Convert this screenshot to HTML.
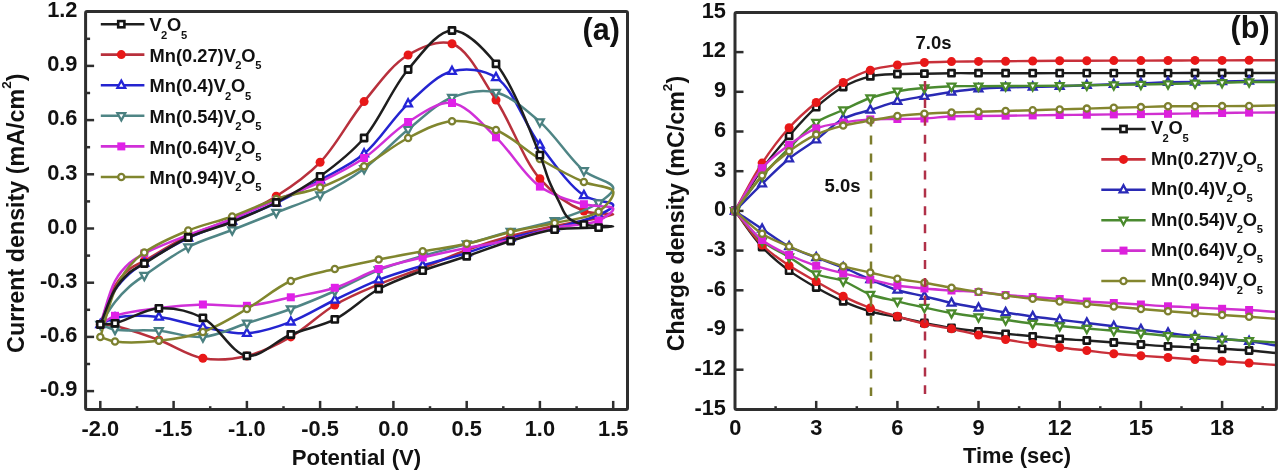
<!DOCTYPE html>
<html><head><meta charset="utf-8"><style>
html,body{margin:0;padding:0;background:#fff;width:1280px;height:472px;overflow:hidden}
svg{display:block;filter:blur(0.6px)}
text{font-family:"Liberation Sans",sans-serif;font-weight:bold}
</style></head><body>
<svg width="1280" height="472" viewBox="0 0 1280 472">
<rect width="1280" height="472" fill="#fff"/>
<g font-family="Liberation Sans, sans-serif" font-weight="bold" fill="#111">
<line x1="100.3" y1="409.4" x2="100.3" y2="400.9" stroke="#2e2e2e" stroke-width="2.5"/>
<text x="100.3" y="435.6" font-size="21.8" text-anchor="middle" >-2.0</text>
<line x1="137.0" y1="409.4" x2="137.0" y2="406.2" stroke="#2e2e2e" stroke-width="2.5"/>
<line x1="173.6" y1="409.4" x2="173.6" y2="400.9" stroke="#2e2e2e" stroke-width="2.5"/>
<text x="173.6" y="435.6" font-size="21.8" text-anchor="middle" >-1.5</text>
<line x1="210.2" y1="409.4" x2="210.2" y2="406.2" stroke="#2e2e2e" stroke-width="2.5"/>
<line x1="246.9" y1="409.4" x2="246.9" y2="400.9" stroke="#2e2e2e" stroke-width="2.5"/>
<text x="246.9" y="435.6" font-size="21.8" text-anchor="middle" >-1.0</text>
<line x1="283.5" y1="409.4" x2="283.5" y2="406.2" stroke="#2e2e2e" stroke-width="2.5"/>
<line x1="320.1" y1="409.4" x2="320.1" y2="400.9" stroke="#2e2e2e" stroke-width="2.5"/>
<text x="320.1" y="435.6" font-size="21.8" text-anchor="middle" >-0.5</text>
<line x1="356.8" y1="409.4" x2="356.8" y2="406.2" stroke="#2e2e2e" stroke-width="2.5"/>
<line x1="393.4" y1="409.4" x2="393.4" y2="400.9" stroke="#2e2e2e" stroke-width="2.5"/>
<text x="393.4" y="435.6" font-size="21.8" text-anchor="middle" >0.0</text>
<line x1="430.0" y1="409.4" x2="430.0" y2="406.2" stroke="#2e2e2e" stroke-width="2.5"/>
<line x1="466.7" y1="409.4" x2="466.7" y2="400.9" stroke="#2e2e2e" stroke-width="2.5"/>
<text x="466.7" y="435.6" font-size="21.8" text-anchor="middle" >0.5</text>
<line x1="503.3" y1="409.4" x2="503.3" y2="406.2" stroke="#2e2e2e" stroke-width="2.5"/>
<line x1="539.9" y1="409.4" x2="539.9" y2="400.9" stroke="#2e2e2e" stroke-width="2.5"/>
<text x="539.9" y="435.6" font-size="21.8" text-anchor="middle" >1.0</text>
<line x1="576.6" y1="409.4" x2="576.6" y2="406.2" stroke="#2e2e2e" stroke-width="2.5"/>
<line x1="613.2" y1="409.4" x2="613.2" y2="400.9" stroke="#2e2e2e" stroke-width="2.5"/>
<text x="613.2" y="435.6" font-size="21.8" text-anchor="middle" >1.5</text>
<line x1="85.6" y1="391.1" x2="94.1" y2="391.1" stroke="#2e2e2e" stroke-width="2.5"/>
<text x="77.5" y="396.4" font-size="21.8" text-anchor="end" >-0.9</text>
<line x1="85.6" y1="364.0" x2="90.1" y2="364.0" stroke="#2e2e2e" stroke-width="2.5"/>
<line x1="85.6" y1="336.9" x2="94.1" y2="336.9" stroke="#2e2e2e" stroke-width="2.5"/>
<text x="77.5" y="342.2" font-size="21.8" text-anchor="end" >-0.6</text>
<line x1="85.6" y1="309.8" x2="90.1" y2="309.8" stroke="#2e2e2e" stroke-width="2.5"/>
<line x1="85.6" y1="282.7" x2="94.1" y2="282.7" stroke="#2e2e2e" stroke-width="2.5"/>
<text x="77.5" y="288.0" font-size="21.8" text-anchor="end" >-0.3</text>
<line x1="85.6" y1="255.6" x2="90.1" y2="255.6" stroke="#2e2e2e" stroke-width="2.5"/>
<line x1="85.6" y1="228.5" x2="94.1" y2="228.5" stroke="#2e2e2e" stroke-width="2.5"/>
<text x="77.5" y="233.8" font-size="21.8" text-anchor="end" >0.0</text>
<line x1="85.6" y1="201.4" x2="90.1" y2="201.4" stroke="#2e2e2e" stroke-width="2.5"/>
<line x1="85.6" y1="174.3" x2="94.1" y2="174.3" stroke="#2e2e2e" stroke-width="2.5"/>
<text x="77.5" y="179.6" font-size="21.8" text-anchor="end" >0.3</text>
<line x1="85.6" y1="147.2" x2="90.1" y2="147.2" stroke="#2e2e2e" stroke-width="2.5"/>
<line x1="85.6" y1="120.1" x2="94.1" y2="120.1" stroke="#2e2e2e" stroke-width="2.5"/>
<text x="77.5" y="125.4" font-size="21.8" text-anchor="end" >0.6</text>
<line x1="85.6" y1="93.0" x2="90.1" y2="93.0" stroke="#2e2e2e" stroke-width="2.5"/>
<line x1="85.6" y1="65.9" x2="94.1" y2="65.9" stroke="#2e2e2e" stroke-width="2.5"/>
<text x="77.5" y="71.2" font-size="21.8" text-anchor="end" >0.9</text>
<line x1="85.6" y1="38.8" x2="90.1" y2="38.8" stroke="#2e2e2e" stroke-width="2.5"/>
<text x="77.5" y="17.0" font-size="21.8" text-anchor="end" >1.2</text>
</g>
<g fill="none" stroke-linejoin="round" stroke-linecap="round">
<path d="M100.3 324.5 C105.2 311.7 109.1 295.9 115.0 286.0 C119.3 278.7 124.3 273.3 129.6 269.0 C134.2 265.3 138.1 264.4 144.3 261.0 C155.0 255.0 173.3 243.1 188.2 236.0 C202.6 229.2 217.7 225.5 232.2 219.0 C247.0 212.3 261.9 205.4 276.2 196.3 C291.3 186.7 306.4 176.5 320.1 162.3 C336.1 145.9 348.8 120.0 364.1 101.6 C378.2 84.5 391.9 64.5 408.1 55.0 C421.6 47.0 438.7 39.3 452.0 43.8 C468.7 49.5 482.1 79.1 496.0 100.0 C511.6 123.5 522.9 159.5 539.9 178.8 C553.2 193.8 570.0 205.6 583.9 211.0 C594.1 215.0 613.1 212.8 613.2 214.3 C613.3 215.3 604.8 216.6 598.6 218.0 C587.9 220.3 569.2 223.0 554.6 226.0 C539.9 229.0 525.2 232.0 510.6 236.0 C495.9 240.0 481.2 244.7 466.7 250.0 C451.9 255.4 437.4 262.3 422.7 268.0 C408.1 273.7 393.3 278.3 378.7 284.4 C364.0 290.6 349.0 296.6 334.8 305.0 C319.7 313.9 306.0 328.3 290.8 336.9 C276.6 345.0 261.8 352.5 246.9 356.0 C232.5 359.4 217.3 360.8 202.9 358.3 C187.9 355.7 173.7 345.4 158.9 340.0 C144.4 334.7 125.8 328.3 115.0 326.0 C108.9 324.7 105.2 325.0 100.3 324.5" stroke="#b8303c" stroke-width="2.5"/>
<circle cx="100.3" cy="324.5" r="4.5" fill="#e81818"/>
<circle cx="144.3" cy="261.0" r="4.5" fill="#e81818"/>
<circle cx="188.2" cy="236.0" r="4.5" fill="#e81818"/>
<circle cx="232.2" cy="219.0" r="4.5" fill="#e81818"/>
<circle cx="276.2" cy="196.3" r="4.5" fill="#e81818"/>
<circle cx="320.1" cy="162.3" r="4.5" fill="#e81818"/>
<circle cx="364.1" cy="101.6" r="4.5" fill="#e81818"/>
<circle cx="408.1" cy="55.0" r="4.5" fill="#e81818"/>
<circle cx="452.0" cy="43.8" r="4.5" fill="#e81818"/>
<circle cx="496.0" cy="100.0" r="4.5" fill="#e81818"/>
<circle cx="539.9" cy="178.8" r="4.5" fill="#e81818"/>
<circle cx="583.9" cy="211.0" r="4.5" fill="#e81818"/>
<circle cx="598.6" cy="218.0" r="4.5" fill="#e81818"/>
<circle cx="554.6" cy="226.0" r="4.5" fill="#e81818"/>
<circle cx="510.6" cy="236.0" r="4.5" fill="#e81818"/>
<circle cx="466.7" cy="250.0" r="4.5" fill="#e81818"/>
<circle cx="422.7" cy="268.0" r="4.5" fill="#e81818"/>
<circle cx="378.7" cy="284.4" r="4.5" fill="#e81818"/>
<circle cx="334.8" cy="305.0" r="4.5" fill="#e81818"/>
<circle cx="290.8" cy="336.9" r="4.5" fill="#e81818"/>
<circle cx="246.9" cy="356.0" r="4.5" fill="#e81818"/>
<circle cx="202.9" cy="358.3" r="4.5" fill="#e81818"/>
<circle cx="158.9" cy="340.0" r="4.5" fill="#e81818"/>
<circle cx="115.0" cy="326.0" r="4.5" fill="#e81818"/>
<path d="M100.3 324.5 C105.2 313.0 109.3 299.0 115.0 290.0 C119.4 283.1 124.5 278.1 129.6 273.5 C134.3 269.3 138.0 267.1 144.3 263.0 C154.9 256.2 173.3 245.1 188.2 238.0 C202.6 231.2 217.6 226.8 232.2 221.0 C246.9 215.2 261.7 209.7 276.2 203.0 C291.0 196.1 305.6 188.1 320.1 180.0 C334.9 171.7 350.3 165.3 364.1 153.8 C379.8 140.7 392.6 118.0 408.1 103.8 C422.1 90.9 436.5 75.2 452.0 71.3 C466.0 67.8 482.9 69.2 496.0 77.5 C513.6 88.7 524.5 124.6 539.9 145.0 C554.0 163.6 569.4 185.9 583.9 195.5 C593.7 202.0 612.7 201.1 613.2 205.0 C613.6 207.9 605.1 211.9 598.6 215.0 C588.1 220.0 569.3 224.2 554.6 228.0 C540.0 231.8 525.2 233.9 510.6 238.0 C495.9 242.2 481.4 248.4 466.7 253.0 C452.1 257.6 437.3 261.0 422.7 265.5 C408.0 270.0 393.2 274.1 378.7 279.8 C363.9 285.6 349.4 293.0 334.8 300.0 C320.1 307.0 305.8 316.3 290.8 321.9 C276.4 327.3 261.6 332.5 246.9 333.3 C232.3 334.1 217.5 329.7 202.9 327.0 C188.2 324.3 173.7 318.5 158.9 317.0 C144.4 315.5 125.5 315.6 115.0 318.0 C108.6 319.4 105.2 322.3 100.3 324.5" stroke="#2424d0" stroke-width="2.5"/>
<path d="M100.3 319.9L104.2 327.1L96.4 327.1Z" fill="#fff" stroke="#2424d8" stroke-width="2.3" stroke-linejoin="miter"/>
<path d="M144.3 258.4L148.2 265.6L140.4 265.6Z" fill="#fff" stroke="#2424d8" stroke-width="2.3" stroke-linejoin="miter"/>
<path d="M188.2 233.4L192.1 240.6L184.3 240.6Z" fill="#fff" stroke="#2424d8" stroke-width="2.3" stroke-linejoin="miter"/>
<path d="M232.2 216.4L236.1 223.6L228.3 223.6Z" fill="#fff" stroke="#2424d8" stroke-width="2.3" stroke-linejoin="miter"/>
<path d="M276.2 198.4L280.1 205.6L272.3 205.6Z" fill="#fff" stroke="#2424d8" stroke-width="2.3" stroke-linejoin="miter"/>
<path d="M320.1 175.4L324.0 182.6L316.2 182.6Z" fill="#fff" stroke="#2424d8" stroke-width="2.3" stroke-linejoin="miter"/>
<path d="M364.1 149.2L368.0 156.4L360.2 156.4Z" fill="#fff" stroke="#2424d8" stroke-width="2.3" stroke-linejoin="miter"/>
<path d="M408.1 99.2L412.0 106.4L404.2 106.4Z" fill="#fff" stroke="#2424d8" stroke-width="2.3" stroke-linejoin="miter"/>
<path d="M452.0 66.7L455.9 73.9L448.1 73.9Z" fill="#fff" stroke="#2424d8" stroke-width="2.3" stroke-linejoin="miter"/>
<path d="M496.0 72.9L499.9 80.1L492.1 80.1Z" fill="#fff" stroke="#2424d8" stroke-width="2.3" stroke-linejoin="miter"/>
<path d="M539.9 140.4L543.8 147.6L536.0 147.6Z" fill="#fff" stroke="#2424d8" stroke-width="2.3" stroke-linejoin="miter"/>
<path d="M583.9 190.9L587.8 198.1L580.0 198.1Z" fill="#fff" stroke="#2424d8" stroke-width="2.3" stroke-linejoin="miter"/>
<path d="M598.6 210.4L602.5 217.6L594.7 217.6Z" fill="#fff" stroke="#2424d8" stroke-width="2.3" stroke-linejoin="miter"/>
<path d="M554.6 223.4L558.5 230.6L550.7 230.6Z" fill="#fff" stroke="#2424d8" stroke-width="2.3" stroke-linejoin="miter"/>
<path d="M510.6 233.4L514.5 240.6L506.7 240.6Z" fill="#fff" stroke="#2424d8" stroke-width="2.3" stroke-linejoin="miter"/>
<path d="M466.7 248.4L470.6 255.6L462.8 255.6Z" fill="#fff" stroke="#2424d8" stroke-width="2.3" stroke-linejoin="miter"/>
<path d="M422.7 260.9L426.6 268.1L418.8 268.1Z" fill="#fff" stroke="#2424d8" stroke-width="2.3" stroke-linejoin="miter"/>
<path d="M378.7 275.2L382.6 282.4L374.8 282.4Z" fill="#fff" stroke="#2424d8" stroke-width="2.3" stroke-linejoin="miter"/>
<path d="M334.8 295.4L338.7 302.6L330.9 302.6Z" fill="#fff" stroke="#2424d8" stroke-width="2.3" stroke-linejoin="miter"/>
<path d="M290.8 317.3L294.7 324.5L286.9 324.5Z" fill="#fff" stroke="#2424d8" stroke-width="2.3" stroke-linejoin="miter"/>
<path d="M246.9 328.7L250.8 335.9L243.0 335.9Z" fill="#fff" stroke="#2424d8" stroke-width="2.3" stroke-linejoin="miter"/>
<path d="M202.9 322.4L206.8 329.6L199.0 329.6Z" fill="#fff" stroke="#2424d8" stroke-width="2.3" stroke-linejoin="miter"/>
<path d="M158.9 312.4L162.8 319.6L155.0 319.6Z" fill="#fff" stroke="#2424d8" stroke-width="2.3" stroke-linejoin="miter"/>
<path d="M115.0 313.4L118.9 320.6L111.1 320.6Z" fill="#fff" stroke="#2424d8" stroke-width="2.3" stroke-linejoin="miter"/>
<path d="M100.3 324.5 C105.2 317.0 109.8 308.6 115.0 302.0 C119.6 296.1 124.5 291.0 129.6 286.5 C134.3 282.3 138.0 279.9 144.3 275.5 C154.9 268.1 173.2 254.7 188.2 247.0 C202.5 239.7 217.6 235.7 232.2 230.0 C246.9 224.2 261.5 218.3 276.2 212.5 C290.8 206.7 305.8 202.1 320.1 195.0 C335.1 187.6 349.9 179.2 364.1 168.8 C379.3 157.6 393.1 141.6 408.1 129.5 C422.4 117.9 436.5 103.5 452.0 97.5 C466.0 92.1 481.9 89.1 496.0 92.5 C511.3 96.2 526.0 109.8 539.9 121.9 C555.5 135.4 569.9 159.4 583.9 170.8 C594.0 179.0 612.3 181.6 613.2 187.7 C613.9 192.5 605.4 198.4 598.6 203.0 C588.3 209.9 569.4 215.9 554.6 220.7 C540.1 225.4 525.3 227.6 510.6 231.5 C495.9 235.4 481.3 239.9 466.7 244.0 C452.0 248.1 437.3 251.7 422.7 256.0 C408.0 260.3 393.2 264.3 378.7 270.0 C363.9 275.9 349.5 284.5 334.8 291.0 C320.2 297.5 305.6 303.6 290.8 309.0 C276.3 314.3 261.5 318.6 246.9 323.3 C232.2 328.0 217.7 335.8 202.9 337.0 C188.4 338.2 173.6 332.0 158.9 330.8 C144.3 329.6 125.6 331.4 115.0 329.5 C108.7 328.4 105.2 326.2 100.3 324.5" stroke="#4f8585" stroke-width="2.5"/>
<path d="M100.3 329.1L104.2 321.9L96.4 321.9Z" fill="#fff" stroke="#4a8080" stroke-width="2.3" stroke-linejoin="miter"/>
<path d="M144.3 280.1L148.2 272.9L140.4 272.9Z" fill="#fff" stroke="#4a8080" stroke-width="2.3" stroke-linejoin="miter"/>
<path d="M188.2 251.6L192.1 244.4L184.3 244.4Z" fill="#fff" stroke="#4a8080" stroke-width="2.3" stroke-linejoin="miter"/>
<path d="M232.2 234.6L236.1 227.4L228.3 227.4Z" fill="#fff" stroke="#4a8080" stroke-width="2.3" stroke-linejoin="miter"/>
<path d="M276.2 217.1L280.1 209.9L272.3 209.9Z" fill="#fff" stroke="#4a8080" stroke-width="2.3" stroke-linejoin="miter"/>
<path d="M320.1 199.6L324.0 192.4L316.2 192.4Z" fill="#fff" stroke="#4a8080" stroke-width="2.3" stroke-linejoin="miter"/>
<path d="M364.1 173.4L368.0 166.2L360.2 166.2Z" fill="#fff" stroke="#4a8080" stroke-width="2.3" stroke-linejoin="miter"/>
<path d="M408.1 134.1L412.0 126.9L404.2 126.9Z" fill="#fff" stroke="#4a8080" stroke-width="2.3" stroke-linejoin="miter"/>
<path d="M452.0 102.1L455.9 94.9L448.1 94.9Z" fill="#fff" stroke="#4a8080" stroke-width="2.3" stroke-linejoin="miter"/>
<path d="M496.0 97.1L499.9 89.9L492.1 89.9Z" fill="#fff" stroke="#4a8080" stroke-width="2.3" stroke-linejoin="miter"/>
<path d="M539.9 126.5L543.8 119.3L536.0 119.3Z" fill="#fff" stroke="#4a8080" stroke-width="2.3" stroke-linejoin="miter"/>
<path d="M583.9 175.4L587.8 168.2L580.0 168.2Z" fill="#fff" stroke="#4a8080" stroke-width="2.3" stroke-linejoin="miter"/>
<path d="M598.6 207.6L602.5 200.4L594.7 200.4Z" fill="#fff" stroke="#4a8080" stroke-width="2.3" stroke-linejoin="miter"/>
<path d="M554.6 225.3L558.5 218.1L550.7 218.1Z" fill="#fff" stroke="#4a8080" stroke-width="2.3" stroke-linejoin="miter"/>
<path d="M510.6 236.1L514.5 228.9L506.7 228.9Z" fill="#fff" stroke="#4a8080" stroke-width="2.3" stroke-linejoin="miter"/>
<path d="M466.7 248.6L470.6 241.4L462.8 241.4Z" fill="#fff" stroke="#4a8080" stroke-width="2.3" stroke-linejoin="miter"/>
<path d="M422.7 260.6L426.6 253.4L418.8 253.4Z" fill="#fff" stroke="#4a8080" stroke-width="2.3" stroke-linejoin="miter"/>
<path d="M378.7 274.6L382.6 267.4L374.8 267.4Z" fill="#fff" stroke="#4a8080" stroke-width="2.3" stroke-linejoin="miter"/>
<path d="M334.8 295.6L338.7 288.4L330.9 288.4Z" fill="#fff" stroke="#4a8080" stroke-width="2.3" stroke-linejoin="miter"/>
<path d="M290.8 313.6L294.7 306.4L286.9 306.4Z" fill="#fff" stroke="#4a8080" stroke-width="2.3" stroke-linejoin="miter"/>
<path d="M246.9 327.9L250.8 320.7L243.0 320.7Z" fill="#fff" stroke="#4a8080" stroke-width="2.3" stroke-linejoin="miter"/>
<path d="M202.9 341.6L206.8 334.4L199.0 334.4Z" fill="#fff" stroke="#4a8080" stroke-width="2.3" stroke-linejoin="miter"/>
<path d="M158.9 335.4L162.8 328.2L155.0 328.2Z" fill="#fff" stroke="#4a8080" stroke-width="2.3" stroke-linejoin="miter"/>
<path d="M115.0 334.1L118.9 326.9L111.1 326.9Z" fill="#fff" stroke="#4a8080" stroke-width="2.3" stroke-linejoin="miter"/>
<path d="M100.3 324.5 C105.2 310.0 108.9 292.0 115.0 281.0 C119.3 273.2 124.3 267.7 129.6 263.0 C134.2 258.9 137.9 256.9 144.3 253.5 C154.8 247.9 173.5 240.8 188.2 235.0 C202.8 229.3 217.6 224.8 232.2 219.0 C246.9 213.1 261.5 206.2 276.2 200.0 C290.8 193.8 305.7 188.9 320.1 182.0 C335.0 174.9 349.9 167.6 364.1 158.0 C379.2 147.8 392.7 131.3 408.1 122.0 C422.1 113.4 437.9 101.2 452.0 103.0 C467.3 105.0 481.9 124.1 496.0 137.3 C511.3 151.7 523.8 175.3 539.9 186.6 C553.6 196.2 570.5 200.6 583.9 204.2 C594.5 207.1 612.3 205.2 613.2 208.6 C614.0 211.4 605.3 217.6 598.6 220.7 C588.2 225.4 569.2 224.8 554.6 228.0 C539.9 231.2 525.4 236.7 510.6 240.0 C496.0 243.3 481.3 245.1 466.7 248.0 C452.0 250.9 437.3 254.0 422.7 257.5 C408.0 261.0 393.2 264.0 378.7 269.0 C363.9 274.1 349.7 283.1 334.8 287.8 C320.3 292.4 305.5 294.3 290.8 297.3 C276.2 300.3 261.6 304.6 246.9 305.8 C232.3 307.0 217.5 304.1 202.9 304.5 C188.2 304.9 173.5 306.1 158.9 308.0 C144.2 309.9 125.5 311.9 115.0 315.8 C108.5 318.2 105.2 321.6 100.3 324.5" stroke="#d030d8" stroke-width="2.5"/>
<rect x="96.3" y="320.5" width="8.0" height="8.0" fill="#e020e8"/>
<rect x="140.3" y="249.5" width="8.0" height="8.0" fill="#e020e8"/>
<rect x="184.2" y="231.0" width="8.0" height="8.0" fill="#e020e8"/>
<rect x="228.2" y="215.0" width="8.0" height="8.0" fill="#e020e8"/>
<rect x="272.2" y="196.0" width="8.0" height="8.0" fill="#e020e8"/>
<rect x="316.1" y="178.0" width="8.0" height="8.0" fill="#e020e8"/>
<rect x="360.1" y="154.0" width="8.0" height="8.0" fill="#e020e8"/>
<rect x="404.1" y="118.0" width="8.0" height="8.0" fill="#e020e8"/>
<rect x="448.0" y="99.0" width="8.0" height="8.0" fill="#e020e8"/>
<rect x="492.0" y="133.3" width="8.0" height="8.0" fill="#e020e8"/>
<rect x="535.9" y="182.6" width="8.0" height="8.0" fill="#e020e8"/>
<rect x="579.9" y="200.2" width="8.0" height="8.0" fill="#e020e8"/>
<rect x="594.6" y="216.7" width="8.0" height="8.0" fill="#e020e8"/>
<rect x="550.6" y="224.0" width="8.0" height="8.0" fill="#e020e8"/>
<rect x="506.6" y="236.0" width="8.0" height="8.0" fill="#e020e8"/>
<rect x="462.7" y="244.0" width="8.0" height="8.0" fill="#e020e8"/>
<rect x="418.7" y="253.5" width="8.0" height="8.0" fill="#e020e8"/>
<rect x="374.7" y="265.0" width="8.0" height="8.0" fill="#e020e8"/>
<rect x="330.8" y="283.8" width="8.0" height="8.0" fill="#e020e8"/>
<rect x="286.8" y="293.3" width="8.0" height="8.0" fill="#e020e8"/>
<rect x="242.9" y="301.8" width="8.0" height="8.0" fill="#e020e8"/>
<rect x="198.9" y="300.5" width="8.0" height="8.0" fill="#e020e8"/>
<rect x="154.9" y="304.0" width="8.0" height="8.0" fill="#e020e8"/>
<rect x="111.0" y="311.8" width="8.0" height="8.0" fill="#e020e8"/>
<path d="M100.3 337.0 C105.2 321.3 109.2 302.8 115.0 290.0 C119.3 280.3 124.2 272.6 129.6 266.0 C134.2 260.5 137.7 257.1 144.3 252.5 C154.7 245.3 173.4 236.6 188.2 230.5 C202.7 224.6 217.6 221.7 232.2 216.5 C247.0 211.2 261.4 203.9 276.2 199.0 C290.7 194.2 305.7 192.8 320.1 187.5 C335.1 182.0 349.7 174.4 364.1 166.3 C379.0 157.9 393.0 145.6 408.1 138.0 C422.3 130.8 437.2 122.5 452.0 121.3 C466.5 120.1 481.9 124.2 496.0 130.0 C511.3 136.3 525.1 150.2 539.9 159.0 C554.4 167.5 570.5 176.4 583.9 182.0 C594.5 186.4 611.4 186.0 613.2 191.4 C614.8 196.3 606.0 206.7 598.6 211.8 C588.5 218.6 569.3 219.6 554.6 223.0 C540.0 226.4 525.2 228.5 510.6 232.0 C495.9 235.5 481.4 240.6 466.7 243.8 C452.1 247.0 437.4 248.7 422.7 251.3 C408.0 253.9 393.4 256.7 378.7 259.6 C364.1 262.6 349.4 265.4 334.8 269.0 C320.1 272.6 305.0 274.7 290.8 281.0 C275.6 287.7 261.7 300.4 246.9 309.0 C232.4 317.4 217.9 326.7 202.9 332.0 C188.6 337.1 173.7 339.2 158.9 340.8 C144.4 342.4 125.6 343.0 115.0 341.5 C108.7 340.6 105.2 338.5 100.3 337.0" stroke="#80862e" stroke-width="2.5"/>
<circle cx="100.3" cy="337.0" r="3.1" fill="#fff" stroke="#7c8030" stroke-width="2.3"/>
<circle cx="144.3" cy="252.5" r="3.1" fill="#fff" stroke="#7c8030" stroke-width="2.3"/>
<circle cx="188.2" cy="230.5" r="3.1" fill="#fff" stroke="#7c8030" stroke-width="2.3"/>
<circle cx="232.2" cy="216.5" r="3.1" fill="#fff" stroke="#7c8030" stroke-width="2.3"/>
<circle cx="276.2" cy="199.0" r="3.1" fill="#fff" stroke="#7c8030" stroke-width="2.3"/>
<circle cx="320.1" cy="187.5" r="3.1" fill="#fff" stroke="#7c8030" stroke-width="2.3"/>
<circle cx="364.1" cy="166.3" r="3.1" fill="#fff" stroke="#7c8030" stroke-width="2.3"/>
<circle cx="408.1" cy="138.0" r="3.1" fill="#fff" stroke="#7c8030" stroke-width="2.3"/>
<circle cx="452.0" cy="121.3" r="3.1" fill="#fff" stroke="#7c8030" stroke-width="2.3"/>
<circle cx="496.0" cy="130.0" r="3.1" fill="#fff" stroke="#7c8030" stroke-width="2.3"/>
<circle cx="539.9" cy="159.0" r="3.1" fill="#fff" stroke="#7c8030" stroke-width="2.3"/>
<circle cx="583.9" cy="182.0" r="3.1" fill="#fff" stroke="#7c8030" stroke-width="2.3"/>
<circle cx="598.6" cy="211.8" r="3.1" fill="#fff" stroke="#7c8030" stroke-width="2.3"/>
<circle cx="554.6" cy="223.0" r="3.1" fill="#fff" stroke="#7c8030" stroke-width="2.3"/>
<circle cx="510.6" cy="232.0" r="3.1" fill="#fff" stroke="#7c8030" stroke-width="2.3"/>
<circle cx="466.7" cy="243.8" r="3.1" fill="#fff" stroke="#7c8030" stroke-width="2.3"/>
<circle cx="422.7" cy="251.3" r="3.1" fill="#fff" stroke="#7c8030" stroke-width="2.3"/>
<circle cx="378.7" cy="259.6" r="3.1" fill="#fff" stroke="#7c8030" stroke-width="2.3"/>
<circle cx="334.8" cy="269.0" r="3.1" fill="#fff" stroke="#7c8030" stroke-width="2.3"/>
<circle cx="290.8" cy="281.0" r="3.1" fill="#fff" stroke="#7c8030" stroke-width="2.3"/>
<circle cx="246.9" cy="309.0" r="3.1" fill="#fff" stroke="#7c8030" stroke-width="2.3"/>
<circle cx="202.9" cy="332.0" r="3.1" fill="#fff" stroke="#7c8030" stroke-width="2.3"/>
<circle cx="158.9" cy="340.8" r="3.1" fill="#fff" stroke="#7c8030" stroke-width="2.3"/>
<circle cx="115.0" cy="341.5" r="3.1" fill="#fff" stroke="#7c8030" stroke-width="2.3"/>
<path d="M100.3 324.5 C105.2 312.8 109.3 298.7 115.0 289.5 C119.4 282.4 124.4 277.0 129.6 272.5 C134.2 268.6 138.1 267.2 144.3 263.5 C155.0 257.0 173.2 244.5 188.2 237.5 C202.6 230.8 217.7 227.8 232.2 222.0 C247.0 216.1 261.7 210.0 276.2 202.5 C291.1 194.8 305.9 186.6 320.1 176.3 C335.3 165.3 350.5 153.8 364.1 138.0 C380.2 119.4 392.0 88.3 408.1 69.5 C421.7 53.6 437.1 31.1 452.0 30.5 C466.4 29.9 483.0 47.9 496.0 63.8 C513.6 85.4 531.2 134.1 539.9 155.1 C544.4 165.8 545.5 172.1 548.7 180.0 C551.8 187.5 555.6 195.0 559.0 201.6 C561.9 207.4 563.6 213.7 567.8 217.5 C571.9 221.3 577.6 223.1 583.9 224.6 C592.1 226.6 613.2 225.8 613.2 226.4 C613.2 226.8 604.8 227.2 598.6 227.6 C587.8 228.3 569.1 227.4 554.6 229.6 C539.8 231.8 525.2 236.6 510.6 241.0 C495.9 245.5 481.3 251.4 466.7 256.3 C452.0 261.2 437.3 265.2 422.7 270.6 C407.9 276.1 393.0 281.2 378.7 289.0 C363.6 297.3 350.0 311.7 334.8 319.4 C320.6 326.6 305.3 328.5 290.8 334.5 C276.0 340.6 260.9 357.7 246.9 355.8 C231.5 353.8 218.6 325.6 202.9 317.8 C189.1 310.9 173.5 307.5 158.9 308.3 C144.2 309.2 125.8 321.0 115.0 323.3 C108.9 324.6 105.2 324.1 100.3 324.5" stroke="#1e1e1e" stroke-width="2.5"/>
<rect x="97.2" y="321.4" width="6.2" height="6.2" fill="#fff" stroke="#141414" stroke-width="2.6"/>
<rect x="141.2" y="260.4" width="6.2" height="6.2" fill="#fff" stroke="#141414" stroke-width="2.6"/>
<rect x="185.1" y="234.4" width="6.2" height="6.2" fill="#fff" stroke="#141414" stroke-width="2.6"/>
<rect x="229.1" y="218.9" width="6.2" height="6.2" fill="#fff" stroke="#141414" stroke-width="2.6"/>
<rect x="273.1" y="199.4" width="6.2" height="6.2" fill="#fff" stroke="#141414" stroke-width="2.6"/>
<rect x="317.0" y="173.2" width="6.2" height="6.2" fill="#fff" stroke="#141414" stroke-width="2.6"/>
<rect x="361.0" y="134.9" width="6.2" height="6.2" fill="#fff" stroke="#141414" stroke-width="2.6"/>
<rect x="405.0" y="66.4" width="6.2" height="6.2" fill="#fff" stroke="#141414" stroke-width="2.6"/>
<rect x="448.9" y="27.4" width="6.2" height="6.2" fill="#fff" stroke="#141414" stroke-width="2.6"/>
<rect x="492.9" y="60.7" width="6.2" height="6.2" fill="#fff" stroke="#141414" stroke-width="2.6"/>
<rect x="536.8" y="152.0" width="6.2" height="6.2" fill="#fff" stroke="#141414" stroke-width="2.6"/>
<rect x="580.8" y="221.5" width="6.2" height="6.2" fill="#fff" stroke="#141414" stroke-width="2.6"/>
<rect x="595.5" y="224.5" width="6.2" height="6.2" fill="#fff" stroke="#141414" stroke-width="2.6"/>
<rect x="551.5" y="226.5" width="6.2" height="6.2" fill="#fff" stroke="#141414" stroke-width="2.6"/>
<rect x="507.5" y="237.9" width="6.2" height="6.2" fill="#fff" stroke="#141414" stroke-width="2.6"/>
<rect x="463.6" y="253.2" width="6.2" height="6.2" fill="#fff" stroke="#141414" stroke-width="2.6"/>
<rect x="419.6" y="267.5" width="6.2" height="6.2" fill="#fff" stroke="#141414" stroke-width="2.6"/>
<rect x="375.6" y="285.9" width="6.2" height="6.2" fill="#fff" stroke="#141414" stroke-width="2.6"/>
<rect x="331.7" y="316.3" width="6.2" height="6.2" fill="#fff" stroke="#141414" stroke-width="2.6"/>
<rect x="287.7" y="331.4" width="6.2" height="6.2" fill="#fff" stroke="#141414" stroke-width="2.6"/>
<rect x="243.8" y="352.7" width="6.2" height="6.2" fill="#fff" stroke="#141414" stroke-width="2.6"/>
<rect x="199.8" y="314.7" width="6.2" height="6.2" fill="#fff" stroke="#141414" stroke-width="2.6"/>
<rect x="155.8" y="305.2" width="6.2" height="6.2" fill="#fff" stroke="#141414" stroke-width="2.6"/>
<rect x="111.9" y="320.2" width="6.2" height="6.2" fill="#fff" stroke="#141414" stroke-width="2.6"/>
</g>
<g font-family="Liberation Sans, sans-serif" font-weight="bold" fill="#111">
<line x1="100.8" y1="24.2" x2="144.4" y2="24.2" stroke="#1e1e1e" stroke-width="2.6"/>
<rect x="118.2" y="21.1" width="6.2" height="6.2" fill="#fff" stroke="#141414" stroke-width="2.6"/>
<text x="149.5" y="31.4" font-size="18.3">V<tspan font-size="11.2" dx="-0.6" dy="7.2">2</tspan><tspan dx="-0.3" dy="-7.2">O</tspan><tspan font-size="11.2" dx="-0.3" dy="7.2">5</tspan></text>
<line x1="100.8" y1="54.6" x2="144.4" y2="54.6" stroke="#b8303c" stroke-width="2.6"/>
<circle cx="121.3" cy="54.6" r="4.5" fill="#e81818"/>
<text x="149.5" y="61.8" font-size="18.3">Mn(0.27)V<tspan font-size="11.2" dx="-0.6" dy="7.2">2</tspan><tspan dx="-0.3" dy="-7.2">O</tspan><tspan font-size="11.2" dx="-0.3" dy="7.2">5</tspan></text>
<line x1="100.8" y1="85.2" x2="144.4" y2="85.2" stroke="#2424d0" stroke-width="2.6"/>
<path d="M121.3 80.6L125.2 87.8L117.4 87.8Z" fill="#fff" stroke="#2424d8" stroke-width="2.3" stroke-linejoin="miter"/>
<text x="149.5" y="92.4" font-size="18.3">Mn(0.4)V<tspan font-size="11.2" dx="-0.6" dy="7.2">2</tspan><tspan dx="-0.3" dy="-7.2">O</tspan><tspan font-size="11.2" dx="-0.3" dy="7.2">5</tspan></text>
<line x1="100.8" y1="115.8" x2="144.4" y2="115.8" stroke="#4f8585" stroke-width="2.6"/>
<path d="M121.3 120.4L125.2 113.2L117.4 113.2Z" fill="#fff" stroke="#4a8080" stroke-width="2.3" stroke-linejoin="miter"/>
<text x="149.5" y="123.0" font-size="18.3">Mn(0.54)V<tspan font-size="11.2" dx="-0.6" dy="7.2">2</tspan><tspan dx="-0.3" dy="-7.2">O</tspan><tspan font-size="11.2" dx="-0.3" dy="7.2">5</tspan></text>
<line x1="100.8" y1="146.4" x2="144.4" y2="146.4" stroke="#d030d8" stroke-width="2.6"/>
<rect x="117.3" y="142.4" width="8.0" height="8.0" fill="#e020e8"/>
<text x="149.5" y="153.6" font-size="18.3">Mn(0.64)V<tspan font-size="11.2" dx="-0.6" dy="7.2">2</tspan><tspan dx="-0.3" dy="-7.2">O</tspan><tspan font-size="11.2" dx="-0.3" dy="7.2">5</tspan></text>
<line x1="100.8" y1="177.0" x2="144.4" y2="177.0" stroke="#80862e" stroke-width="2.6"/>
<circle cx="121.3" cy="177.0" r="3.1" fill="#fff" stroke="#7c8030" stroke-width="2.3"/>
<text x="149.5" y="184.2" font-size="18.3">Mn(0.94)V<tspan font-size="11.2" dx="-0.6" dy="7.2">2</tspan><tspan dx="-0.3" dy="-7.2">O</tspan><tspan font-size="11.2" dx="-0.3" dy="7.2">5</tspan></text>
</g>
<rect x="85.6" y="11.5" width="541.9" height="397.9" fill="none" stroke="#2e2e2e" stroke-width="3" rx="1.5"/>
<g font-family="Liberation Sans, sans-serif" font-weight="bold" fill="#111">
<text x="601.2" y="40.0" font-size="30.5" text-anchor="middle" >(a)</text>
<text x="356.5" y="464.8" font-size="22.2" text-anchor="middle" >Potential (V)</text>
<text transform="translate(23.8,213.2) rotate(-90)" x="0" y="0" font-size="23.3" text-anchor="middle">Current density (mA/cm<tspan font-size="13.5" dy="-12.5">2</tspan><tspan dy="12.5">)</tspan></text>
</g>
<g font-family="Liberation Sans, sans-serif" font-weight="bold" fill="#111">
<line x1="775.6" y1="409.4" x2="775.6" y2="406.2" stroke="#2e2e2e" stroke-width="2.5"/>
<line x1="816.2" y1="409.4" x2="816.2" y2="400.9" stroke="#2e2e2e" stroke-width="2.5"/>
<text x="816.2" y="434.6" font-size="21.8" text-anchor="middle" >3</text>
<line x1="856.8" y1="409.4" x2="856.8" y2="406.2" stroke="#2e2e2e" stroke-width="2.5"/>
<line x1="897.4" y1="409.4" x2="897.4" y2="400.9" stroke="#2e2e2e" stroke-width="2.5"/>
<text x="897.4" y="434.6" font-size="21.8" text-anchor="middle" >6</text>
<line x1="938.0" y1="409.4" x2="938.0" y2="406.2" stroke="#2e2e2e" stroke-width="2.5"/>
<line x1="978.5" y1="409.4" x2="978.5" y2="400.9" stroke="#2e2e2e" stroke-width="2.5"/>
<text x="978.5" y="434.6" font-size="21.8" text-anchor="middle" >9</text>
<line x1="1019.1" y1="409.4" x2="1019.1" y2="406.2" stroke="#2e2e2e" stroke-width="2.5"/>
<line x1="1059.7" y1="409.4" x2="1059.7" y2="400.9" stroke="#2e2e2e" stroke-width="2.5"/>
<text x="1059.7" y="434.6" font-size="21.8" text-anchor="middle" >12</text>
<line x1="1100.3" y1="409.4" x2="1100.3" y2="406.2" stroke="#2e2e2e" stroke-width="2.5"/>
<line x1="1140.9" y1="409.4" x2="1140.9" y2="400.9" stroke="#2e2e2e" stroke-width="2.5"/>
<text x="1140.9" y="434.6" font-size="21.8" text-anchor="middle" >15</text>
<line x1="1181.5" y1="409.4" x2="1181.5" y2="406.2" stroke="#2e2e2e" stroke-width="2.5"/>
<line x1="1222.1" y1="409.4" x2="1222.1" y2="400.9" stroke="#2e2e2e" stroke-width="2.5"/>
<text x="1222.1" y="434.6" font-size="21.8" text-anchor="middle" >18</text>
<line x1="1262.7" y1="409.4" x2="1262.7" y2="406.2" stroke="#2e2e2e" stroke-width="2.5"/>
<text x="735.3" y="434.6" font-size="21.8" text-anchor="middle" >0</text>
<text x="726.0" y="414.7" font-size="21.8" text-anchor="end" >-15</text>
<line x1="735.0" y1="369.7" x2="743.5" y2="369.7" stroke="#2e2e2e" stroke-width="2.5"/>
<text x="726.0" y="375.0" font-size="21.8" text-anchor="end" >-12</text>
<line x1="735.0" y1="330.0" x2="743.5" y2="330.0" stroke="#2e2e2e" stroke-width="2.5"/>
<text x="726.0" y="335.3" font-size="21.8" text-anchor="end" >-9</text>
<line x1="735.0" y1="290.3" x2="743.5" y2="290.3" stroke="#2e2e2e" stroke-width="2.5"/>
<text x="726.0" y="295.6" font-size="21.8" text-anchor="end" >-6</text>
<line x1="735.0" y1="250.6" x2="743.5" y2="250.6" stroke="#2e2e2e" stroke-width="2.5"/>
<text x="726.0" y="255.9" font-size="21.8" text-anchor="end" >-3</text>
<line x1="735.0" y1="210.9" x2="743.5" y2="210.9" stroke="#2e2e2e" stroke-width="2.5"/>
<text x="726.0" y="216.2" font-size="21.8" text-anchor="end" >0</text>
<line x1="735.0" y1="171.2" x2="743.5" y2="171.2" stroke="#2e2e2e" stroke-width="2.5"/>
<text x="726.0" y="176.5" font-size="21.8" text-anchor="end" >3</text>
<line x1="735.0" y1="131.5" x2="743.5" y2="131.5" stroke="#2e2e2e" stroke-width="2.5"/>
<text x="726.0" y="136.8" font-size="21.8" text-anchor="end" >6</text>
<line x1="735.0" y1="91.8" x2="743.5" y2="91.8" stroke="#2e2e2e" stroke-width="2.5"/>
<text x="726.0" y="97.1" font-size="21.8" text-anchor="end" >9</text>
<line x1="735.0" y1="52.1" x2="743.5" y2="52.1" stroke="#2e2e2e" stroke-width="2.5"/>
<text x="726.0" y="57.4" font-size="21.8" text-anchor="end" >12</text>
<text x="726.0" y="17.7" font-size="21.8" text-anchor="end" >15</text>
</g>
<g fill="none" stroke-linejoin="round" stroke-linecap="round">
<path d="M735.0 210.9 C744.0 196.9 752.7 181.9 762.1 169.0 C770.8 157.0 779.9 146.3 789.1 135.8 C798.0 125.7 806.8 115.6 816.2 107.2 C824.9 99.5 833.9 92.2 843.2 87.0 C851.9 82.1 861.1 78.5 870.3 76.3 C879.2 74.2 888.3 74.4 897.4 74.0 C906.4 73.6 915.4 73.8 924.4 73.7 C933.4 73.6 942.5 73.3 951.5 73.2 C960.5 73.1 969.5 73.2 978.5 73.2 C987.6 73.2 996.6 73.2 1005.6 73.2 C1014.6 73.2 1023.6 73.2 1032.7 73.2 C1041.7 73.1 1050.7 73.1 1059.7 73.1 C1068.7 73.1 1077.8 73.1 1086.8 73.1 C1095.8 73.1 1104.8 73.1 1113.8 73.1 C1122.9 73.1 1131.9 73.1 1140.9 73.1 C1149.9 73.1 1158.9 73.1 1168.0 73.1 C1177.0 73.1 1186.0 73.1 1195.0 73.0 C1204.0 73.0 1213.1 73.0 1222.1 73.0 C1231.1 73.0 1240.1 73.0 1249.1 73.0 C1258.2 73.0 1267.2 73.0 1276.2 73.0" stroke="#202020" stroke-width="2.4"/>
<rect x="731.9" y="207.8" width="6.2" height="6.2" fill="#fff" stroke="#161616" stroke-width="2.6"/>
<rect x="759.0" y="165.9" width="6.2" height="6.2" fill="#fff" stroke="#161616" stroke-width="2.6"/>
<rect x="786.0" y="132.7" width="6.2" height="6.2" fill="#fff" stroke="#161616" stroke-width="2.6"/>
<rect x="813.1" y="104.1" width="6.2" height="6.2" fill="#fff" stroke="#161616" stroke-width="2.6"/>
<rect x="840.1" y="83.9" width="6.2" height="6.2" fill="#fff" stroke="#161616" stroke-width="2.6"/>
<rect x="867.2" y="73.2" width="6.2" height="6.2" fill="#fff" stroke="#161616" stroke-width="2.6"/>
<rect x="894.3" y="70.9" width="6.2" height="6.2" fill="#fff" stroke="#161616" stroke-width="2.6"/>
<rect x="921.3" y="70.6" width="6.2" height="6.2" fill="#fff" stroke="#161616" stroke-width="2.6"/>
<rect x="948.4" y="70.1" width="6.2" height="6.2" fill="#fff" stroke="#161616" stroke-width="2.6"/>
<rect x="975.4" y="70.1" width="6.2" height="6.2" fill="#fff" stroke="#161616" stroke-width="2.6"/>
<rect x="1002.5" y="70.1" width="6.2" height="6.2" fill="#fff" stroke="#161616" stroke-width="2.6"/>
<rect x="1029.6" y="70.0" width="6.2" height="6.2" fill="#fff" stroke="#161616" stroke-width="2.6"/>
<rect x="1056.6" y="70.0" width="6.2" height="6.2" fill="#fff" stroke="#161616" stroke-width="2.6"/>
<rect x="1083.7" y="70.0" width="6.2" height="6.2" fill="#fff" stroke="#161616" stroke-width="2.6"/>
<rect x="1110.7" y="70.0" width="6.2" height="6.2" fill="#fff" stroke="#161616" stroke-width="2.6"/>
<rect x="1137.8" y="70.0" width="6.2" height="6.2" fill="#fff" stroke="#161616" stroke-width="2.6"/>
<rect x="1164.9" y="70.0" width="6.2" height="6.2" fill="#fff" stroke="#161616" stroke-width="2.6"/>
<rect x="1191.9" y="69.9" width="6.2" height="6.2" fill="#fff" stroke="#161616" stroke-width="2.6"/>
<rect x="1219.0" y="69.9" width="6.2" height="6.2" fill="#fff" stroke="#161616" stroke-width="2.6"/>
<rect x="1246.0" y="69.9" width="6.2" height="6.2" fill="#fff" stroke="#161616" stroke-width="2.6"/>
<path d="M735.0 210.9 C744.0 222.9 752.5 236.7 762.1 247.0 C770.6 256.2 779.8 263.7 789.1 270.6 C797.9 277.1 807.0 282.3 816.2 287.5 C825.1 292.5 834.1 297.3 843.2 301.3 C852.1 305.2 861.2 308.7 870.3 311.3 C879.2 313.9 888.3 315.1 897.4 317.0 C906.4 319.0 915.4 321.2 924.4 323.0 C933.4 324.8 942.4 326.6 951.5 328.0 C960.5 329.4 969.5 330.3 978.5 331.3 C987.6 332.3 996.6 333.0 1005.6 333.8 C1014.6 334.6 1023.6 335.5 1032.7 336.3 C1041.7 337.1 1050.7 338.1 1059.7 338.8 C1068.7 339.5 1077.8 339.9 1086.8 340.5 C1095.8 341.1 1104.8 341.8 1113.8 342.5 C1122.9 343.2 1131.9 343.9 1140.9 344.5 C1149.9 345.1 1158.9 345.8 1168.0 346.3 C1177.0 346.8 1186.0 347.1 1195.0 347.5 C1204.0 347.9 1213.1 348.3 1222.1 348.8 C1231.1 349.3 1240.1 349.8 1249.1 350.5 C1258.2 351.2 1267.2 352.2 1276.2 353.0" stroke="#202020" stroke-width="2.4"/>
<rect x="731.9" y="207.8" width="6.2" height="6.2" fill="#fff" stroke="#161616" stroke-width="2.6"/>
<rect x="759.0" y="243.9" width="6.2" height="6.2" fill="#fff" stroke="#161616" stroke-width="2.6"/>
<rect x="786.0" y="267.5" width="6.2" height="6.2" fill="#fff" stroke="#161616" stroke-width="2.6"/>
<rect x="813.1" y="284.4" width="6.2" height="6.2" fill="#fff" stroke="#161616" stroke-width="2.6"/>
<rect x="840.1" y="298.2" width="6.2" height="6.2" fill="#fff" stroke="#161616" stroke-width="2.6"/>
<rect x="867.2" y="308.2" width="6.2" height="6.2" fill="#fff" stroke="#161616" stroke-width="2.6"/>
<rect x="894.3" y="313.9" width="6.2" height="6.2" fill="#fff" stroke="#161616" stroke-width="2.6"/>
<rect x="921.3" y="319.9" width="6.2" height="6.2" fill="#fff" stroke="#161616" stroke-width="2.6"/>
<rect x="948.4" y="324.9" width="6.2" height="6.2" fill="#fff" stroke="#161616" stroke-width="2.6"/>
<rect x="975.4" y="328.2" width="6.2" height="6.2" fill="#fff" stroke="#161616" stroke-width="2.6"/>
<rect x="1002.5" y="330.7" width="6.2" height="6.2" fill="#fff" stroke="#161616" stroke-width="2.6"/>
<rect x="1029.6" y="333.2" width="6.2" height="6.2" fill="#fff" stroke="#161616" stroke-width="2.6"/>
<rect x="1056.6" y="335.7" width="6.2" height="6.2" fill="#fff" stroke="#161616" stroke-width="2.6"/>
<rect x="1083.7" y="337.4" width="6.2" height="6.2" fill="#fff" stroke="#161616" stroke-width="2.6"/>
<rect x="1110.7" y="339.4" width="6.2" height="6.2" fill="#fff" stroke="#161616" stroke-width="2.6"/>
<rect x="1137.8" y="341.4" width="6.2" height="6.2" fill="#fff" stroke="#161616" stroke-width="2.6"/>
<rect x="1164.9" y="343.2" width="6.2" height="6.2" fill="#fff" stroke="#161616" stroke-width="2.6"/>
<rect x="1191.9" y="344.4" width="6.2" height="6.2" fill="#fff" stroke="#161616" stroke-width="2.6"/>
<rect x="1219.0" y="345.7" width="6.2" height="6.2" fill="#fff" stroke="#161616" stroke-width="2.6"/>
<rect x="1246.0" y="347.4" width="6.2" height="6.2" fill="#fff" stroke="#161616" stroke-width="2.6"/>
<path d="M735.0 210.9 C744.0 195.0 752.5 177.5 762.1 163.1 C770.7 150.1 779.6 138.2 789.1 127.7 C797.8 118.2 806.9 110.2 816.2 102.5 C825.0 95.2 833.9 88.0 843.2 82.5 C852.0 77.4 861.1 73.1 870.3 70.2 C879.2 67.4 888.3 66.3 897.4 65.0 C906.3 63.7 915.4 63.1 924.4 62.5 C933.4 61.9 942.5 61.8 951.5 61.6 C960.5 61.4 969.5 61.5 978.5 61.4 C987.6 61.3 996.6 61.3 1005.6 61.2 C1014.6 61.1 1023.6 61.1 1032.7 61.0 C1041.7 60.9 1050.7 60.8 1059.7 60.8 C1068.7 60.8 1077.8 60.7 1086.8 60.7 C1095.8 60.7 1104.8 60.7 1113.8 60.6 C1122.9 60.6 1131.9 60.6 1140.9 60.6 C1149.9 60.6 1158.9 60.5 1168.0 60.5 C1177.0 60.5 1186.0 60.4 1195.0 60.4 C1204.0 60.4 1213.1 60.4 1222.1 60.4 C1231.1 60.3 1240.1 60.3 1249.1 60.3 C1258.2 60.2 1267.2 60.2 1276.2 60.2" stroke="#c8303a" stroke-width="2.4"/>
<circle cx="735.0" cy="210.9" r="4.5" fill="#e81818"/>
<circle cx="762.1" cy="163.1" r="4.5" fill="#e81818"/>
<circle cx="789.1" cy="127.7" r="4.5" fill="#e81818"/>
<circle cx="816.2" cy="102.5" r="4.5" fill="#e81818"/>
<circle cx="843.2" cy="82.5" r="4.5" fill="#e81818"/>
<circle cx="870.3" cy="70.2" r="4.5" fill="#e81818"/>
<circle cx="897.4" cy="65.0" r="4.5" fill="#e81818"/>
<circle cx="924.4" cy="62.5" r="4.5" fill="#e81818"/>
<circle cx="951.5" cy="61.6" r="4.5" fill="#e81818"/>
<circle cx="978.5" cy="61.4" r="4.5" fill="#e81818"/>
<circle cx="1005.6" cy="61.2" r="4.5" fill="#e81818"/>
<circle cx="1032.7" cy="61.0" r="4.5" fill="#e81818"/>
<circle cx="1059.7" cy="60.8" r="4.5" fill="#e81818"/>
<circle cx="1086.8" cy="60.7" r="4.5" fill="#e81818"/>
<circle cx="1113.8" cy="60.6" r="4.5" fill="#e81818"/>
<circle cx="1140.9" cy="60.6" r="4.5" fill="#e81818"/>
<circle cx="1168.0" cy="60.5" r="4.5" fill="#e81818"/>
<circle cx="1195.0" cy="60.4" r="4.5" fill="#e81818"/>
<circle cx="1222.1" cy="60.4" r="4.5" fill="#e81818"/>
<circle cx="1249.1" cy="60.3" r="4.5" fill="#e81818"/>
<path d="M735.0 210.9 C744.0 222.3 752.4 235.5 762.1 245.0 C770.6 253.4 779.9 259.4 789.1 265.6 C798.0 271.5 807.1 276.4 816.2 281.5 C825.2 286.6 834.1 291.8 843.2 296.3 C852.2 300.7 861.2 304.6 870.3 308.0 C879.2 311.3 888.3 313.7 897.4 316.3 C906.4 318.9 915.4 321.7 924.4 323.8 C933.4 325.9 942.5 326.9 951.5 328.8 C960.5 330.7 969.5 333.2 978.5 335.0 C987.5 336.8 996.6 338.0 1005.6 339.5 C1014.6 341.0 1023.6 342.5 1032.7 343.8 C1041.7 345.1 1050.7 346.4 1059.7 347.5 C1068.7 348.6 1077.8 349.5 1086.8 350.5 C1095.8 351.6 1104.8 352.9 1113.8 353.8 C1122.8 354.7 1131.9 355.2 1140.9 355.8 C1149.9 356.4 1158.9 356.9 1168.0 357.5 C1177.0 358.1 1186.0 358.9 1195.0 359.5 C1204.0 360.1 1213.1 360.7 1222.1 361.3 C1231.1 361.9 1240.1 362.4 1249.1 363.0 C1258.2 363.6 1267.2 364.3 1276.2 365.0" stroke="#c8303a" stroke-width="2.4"/>
<circle cx="735.0" cy="210.9" r="4.5" fill="#e81818"/>
<circle cx="762.1" cy="245.0" r="4.5" fill="#e81818"/>
<circle cx="789.1" cy="265.6" r="4.5" fill="#e81818"/>
<circle cx="816.2" cy="281.5" r="4.5" fill="#e81818"/>
<circle cx="843.2" cy="296.3" r="4.5" fill="#e81818"/>
<circle cx="870.3" cy="308.0" r="4.5" fill="#e81818"/>
<circle cx="897.4" cy="316.3" r="4.5" fill="#e81818"/>
<circle cx="924.4" cy="323.8" r="4.5" fill="#e81818"/>
<circle cx="951.5" cy="328.8" r="4.5" fill="#e81818"/>
<circle cx="978.5" cy="335.0" r="4.5" fill="#e81818"/>
<circle cx="1005.6" cy="339.5" r="4.5" fill="#e81818"/>
<circle cx="1032.7" cy="343.8" r="4.5" fill="#e81818"/>
<circle cx="1059.7" cy="347.5" r="4.5" fill="#e81818"/>
<circle cx="1086.8" cy="350.5" r="4.5" fill="#e81818"/>
<circle cx="1113.8" cy="353.8" r="4.5" fill="#e81818"/>
<circle cx="1140.9" cy="355.8" r="4.5" fill="#e81818"/>
<circle cx="1168.0" cy="357.5" r="4.5" fill="#e81818"/>
<circle cx="1195.0" cy="359.5" r="4.5" fill="#e81818"/>
<circle cx="1222.1" cy="361.3" r="4.5" fill="#e81818"/>
<circle cx="1249.1" cy="363.0" r="4.5" fill="#e81818"/>
<path d="M735.0 210.9 C744.0 201.9 753.0 192.6 762.1 183.8 C771.0 175.2 779.8 166.2 789.1 158.7 C797.9 151.6 807.2 146.4 816.2 139.8 C825.3 133.1 833.8 123.8 843.2 118.8 C851.9 114.2 861.3 112.9 870.3 110.0 C879.3 107.1 888.3 103.6 897.4 101.3 C906.3 99.0 915.4 97.9 924.4 96.3 C933.4 94.8 942.4 93.3 951.5 92.0 C960.5 90.8 969.5 89.6 978.5 88.8 C987.5 88.1 996.6 87.8 1005.6 87.5 C1014.6 87.2 1023.6 87.1 1032.7 86.9 C1041.7 86.7 1050.7 86.6 1059.7 86.3 C1068.7 86.0 1077.8 85.6 1086.8 85.3 C1095.8 85.0 1104.8 84.6 1113.8 84.3 C1122.9 84.0 1131.9 83.6 1140.9 83.3 C1149.9 83.0 1158.9 82.5 1168.0 82.3 C1177.0 82.1 1186.0 82.0 1195.0 81.9 C1204.0 81.7 1213.1 81.6 1222.1 81.4 C1231.1 81.3 1240.1 81.1 1249.1 81.0 C1258.2 80.9 1267.2 80.8 1276.2 80.7" stroke="#2a2ab4" stroke-width="2.4"/>
<path d="M735.0 206.3L738.9 213.5L731.1 213.5Z" fill="#fff" stroke="#2a2ab8" stroke-width="2.3" stroke-linejoin="miter"/>
<path d="M762.1 179.2L766.0 186.4L758.2 186.4Z" fill="#fff" stroke="#2a2ab8" stroke-width="2.3" stroke-linejoin="miter"/>
<path d="M789.1 154.1L793.0 161.3L785.2 161.3Z" fill="#fff" stroke="#2a2ab8" stroke-width="2.3" stroke-linejoin="miter"/>
<path d="M816.2 135.2L820.1 142.4L812.3 142.4Z" fill="#fff" stroke="#2a2ab8" stroke-width="2.3" stroke-linejoin="miter"/>
<path d="M843.2 114.2L847.1 121.4L839.3 121.4Z" fill="#fff" stroke="#2a2ab8" stroke-width="2.3" stroke-linejoin="miter"/>
<path d="M870.3 105.4L874.2 112.6L866.4 112.6Z" fill="#fff" stroke="#2a2ab8" stroke-width="2.3" stroke-linejoin="miter"/>
<path d="M897.4 96.7L901.3 103.9L893.5 103.9Z" fill="#fff" stroke="#2a2ab8" stroke-width="2.3" stroke-linejoin="miter"/>
<path d="M924.4 91.7L928.3 98.9L920.5 98.9Z" fill="#fff" stroke="#2a2ab8" stroke-width="2.3" stroke-linejoin="miter"/>
<path d="M951.5 87.4L955.4 94.6L947.6 94.6Z" fill="#fff" stroke="#2a2ab8" stroke-width="2.3" stroke-linejoin="miter"/>
<path d="M978.5 84.2L982.4 91.4L974.6 91.4Z" fill="#fff" stroke="#2a2ab8" stroke-width="2.3" stroke-linejoin="miter"/>
<path d="M1005.6 82.9L1009.5 90.1L1001.7 90.1Z" fill="#fff" stroke="#2a2ab8" stroke-width="2.3" stroke-linejoin="miter"/>
<path d="M1032.7 82.3L1036.6 89.5L1028.8 89.5Z" fill="#fff" stroke="#2a2ab8" stroke-width="2.3" stroke-linejoin="miter"/>
<path d="M1059.7 81.7L1063.6 88.9L1055.8 88.9Z" fill="#fff" stroke="#2a2ab8" stroke-width="2.3" stroke-linejoin="miter"/>
<path d="M1086.8 80.7L1090.7 87.9L1082.9 87.9Z" fill="#fff" stroke="#2a2ab8" stroke-width="2.3" stroke-linejoin="miter"/>
<path d="M1113.8 79.7L1117.7 86.9L1109.9 86.9Z" fill="#fff" stroke="#2a2ab8" stroke-width="2.3" stroke-linejoin="miter"/>
<path d="M1140.9 78.7L1144.8 85.9L1137.0 85.9Z" fill="#fff" stroke="#2a2ab8" stroke-width="2.3" stroke-linejoin="miter"/>
<path d="M1168.0 77.7L1171.9 84.9L1164.1 84.9Z" fill="#fff" stroke="#2a2ab8" stroke-width="2.3" stroke-linejoin="miter"/>
<path d="M1195.0 77.3L1198.9 84.5L1191.1 84.5Z" fill="#fff" stroke="#2a2ab8" stroke-width="2.3" stroke-linejoin="miter"/>
<path d="M1222.1 76.8L1226.0 84.0L1218.2 84.0Z" fill="#fff" stroke="#2a2ab8" stroke-width="2.3" stroke-linejoin="miter"/>
<path d="M1249.1 76.4L1253.0 83.6L1245.2 83.6Z" fill="#fff" stroke="#2a2ab8" stroke-width="2.3" stroke-linejoin="miter"/>
<path d="M735.0 210.9 C744.0 216.9 753.0 223.1 762.1 229.0 C771.1 234.9 779.9 241.7 789.1 246.5 C797.9 251.1 807.1 254.0 816.2 257.5 C825.2 261.0 834.3 263.9 843.2 267.5 C852.3 271.2 861.2 275.7 870.3 279.5 C879.3 283.2 888.2 287.2 897.4 290.0 C906.3 292.8 915.4 294.1 924.4 296.3 C933.4 298.5 942.4 301.0 951.5 303.0 C960.5 304.9 969.5 306.4 978.5 308.0 C987.6 309.6 996.6 311.1 1005.6 312.5 C1014.6 313.9 1023.6 315.3 1032.7 316.5 C1041.7 317.7 1050.7 318.7 1059.7 319.8 C1068.7 320.9 1077.8 321.9 1086.8 323.0 C1095.8 324.1 1104.8 325.2 1113.8 326.3 C1122.9 327.4 1131.9 328.4 1140.9 329.5 C1149.9 330.6 1158.9 331.9 1168.0 333.0 C1177.0 334.1 1186.0 335.3 1195.0 336.3 C1204.0 337.3 1213.1 338.0 1222.1 338.8 C1231.1 339.6 1240.1 340.2 1249.1 341.3 C1258.2 342.4 1267.2 344.1 1276.2 345.5" stroke="#2a2ab4" stroke-width="2.4"/>
<path d="M735.0 206.3L738.9 213.5L731.1 213.5Z" fill="#fff" stroke="#2a2ab8" stroke-width="2.3" stroke-linejoin="miter"/>
<path d="M762.1 224.4L766.0 231.6L758.2 231.6Z" fill="#fff" stroke="#2a2ab8" stroke-width="2.3" stroke-linejoin="miter"/>
<path d="M789.1 241.9L793.0 249.1L785.2 249.1Z" fill="#fff" stroke="#2a2ab8" stroke-width="2.3" stroke-linejoin="miter"/>
<path d="M816.2 252.9L820.1 260.1L812.3 260.1Z" fill="#fff" stroke="#2a2ab8" stroke-width="2.3" stroke-linejoin="miter"/>
<path d="M843.2 262.9L847.1 270.1L839.3 270.1Z" fill="#fff" stroke="#2a2ab8" stroke-width="2.3" stroke-linejoin="miter"/>
<path d="M870.3 274.9L874.2 282.1L866.4 282.1Z" fill="#fff" stroke="#2a2ab8" stroke-width="2.3" stroke-linejoin="miter"/>
<path d="M897.4 285.4L901.3 292.6L893.5 292.6Z" fill="#fff" stroke="#2a2ab8" stroke-width="2.3" stroke-linejoin="miter"/>
<path d="M924.4 291.7L928.3 298.9L920.5 298.9Z" fill="#fff" stroke="#2a2ab8" stroke-width="2.3" stroke-linejoin="miter"/>
<path d="M951.5 298.4L955.4 305.6L947.6 305.6Z" fill="#fff" stroke="#2a2ab8" stroke-width="2.3" stroke-linejoin="miter"/>
<path d="M978.5 303.4L982.4 310.6L974.6 310.6Z" fill="#fff" stroke="#2a2ab8" stroke-width="2.3" stroke-linejoin="miter"/>
<path d="M1005.6 307.9L1009.5 315.1L1001.7 315.1Z" fill="#fff" stroke="#2a2ab8" stroke-width="2.3" stroke-linejoin="miter"/>
<path d="M1032.7 311.9L1036.6 319.1L1028.8 319.1Z" fill="#fff" stroke="#2a2ab8" stroke-width="2.3" stroke-linejoin="miter"/>
<path d="M1059.7 315.2L1063.6 322.4L1055.8 322.4Z" fill="#fff" stroke="#2a2ab8" stroke-width="2.3" stroke-linejoin="miter"/>
<path d="M1086.8 318.4L1090.7 325.6L1082.9 325.6Z" fill="#fff" stroke="#2a2ab8" stroke-width="2.3" stroke-linejoin="miter"/>
<path d="M1113.8 321.7L1117.7 328.9L1109.9 328.9Z" fill="#fff" stroke="#2a2ab8" stroke-width="2.3" stroke-linejoin="miter"/>
<path d="M1140.9 324.9L1144.8 332.1L1137.0 332.1Z" fill="#fff" stroke="#2a2ab8" stroke-width="2.3" stroke-linejoin="miter"/>
<path d="M1168.0 328.4L1171.9 335.6L1164.1 335.6Z" fill="#fff" stroke="#2a2ab8" stroke-width="2.3" stroke-linejoin="miter"/>
<path d="M1195.0 331.7L1198.9 338.9L1191.1 338.9Z" fill="#fff" stroke="#2a2ab8" stroke-width="2.3" stroke-linejoin="miter"/>
<path d="M1222.1 334.2L1226.0 341.4L1218.2 341.4Z" fill="#fff" stroke="#2a2ab8" stroke-width="2.3" stroke-linejoin="miter"/>
<path d="M1249.1 336.7L1253.0 343.9L1245.2 343.9Z" fill="#fff" stroke="#2a2ab8" stroke-width="2.3" stroke-linejoin="miter"/>
<path d="M735.0 210.9 C744.0 199.3 752.7 186.8 762.1 176.0 C770.8 165.9 780.0 157.0 789.1 148.0 C798.0 139.2 806.6 129.0 816.2 122.5 C824.8 116.7 834.2 114.1 843.2 110.0 C852.2 105.9 861.1 101.1 870.3 98.0 C879.2 95.0 888.3 93.0 897.4 91.3 C906.3 89.6 915.4 88.8 924.4 88.0 C933.4 87.2 942.5 86.6 951.5 86.3 C960.5 86.0 969.5 86.2 978.5 86.2 C987.6 86.1 996.6 86.1 1005.6 86.0 C1014.6 86.0 1023.6 86.0 1032.7 85.9 C1041.7 85.9 1050.7 85.9 1059.7 85.8 C1068.7 85.7 1077.8 85.5 1086.8 85.3 C1095.8 85.2 1104.8 85.1 1113.8 84.9 C1122.9 84.8 1131.9 84.6 1140.9 84.5 C1149.9 84.3 1158.9 84.2 1168.0 84.0 C1177.0 83.8 1186.0 83.6 1195.0 83.3 C1204.0 83.1 1213.1 82.9 1222.1 82.7 C1231.1 82.4 1240.1 82.1 1249.1 82.0 C1258.2 81.9 1267.2 82.0 1276.2 82.0" stroke="#4a8a30" stroke-width="2.4"/>
<path d="M735.0 215.5L738.9 208.3L731.1 208.3Z" fill="#fff" stroke="#4a8a2c" stroke-width="2.3" stroke-linejoin="miter"/>
<path d="M762.1 180.6L766.0 173.4L758.2 173.4Z" fill="#fff" stroke="#4a8a2c" stroke-width="2.3" stroke-linejoin="miter"/>
<path d="M789.1 152.6L793.0 145.4L785.2 145.4Z" fill="#fff" stroke="#4a8a2c" stroke-width="2.3" stroke-linejoin="miter"/>
<path d="M816.2 127.1L820.1 119.9L812.3 119.9Z" fill="#fff" stroke="#4a8a2c" stroke-width="2.3" stroke-linejoin="miter"/>
<path d="M843.2 114.6L847.1 107.4L839.3 107.4Z" fill="#fff" stroke="#4a8a2c" stroke-width="2.3" stroke-linejoin="miter"/>
<path d="M870.3 102.6L874.2 95.4L866.4 95.4Z" fill="#fff" stroke="#4a8a2c" stroke-width="2.3" stroke-linejoin="miter"/>
<path d="M897.4 95.9L901.3 88.7L893.5 88.7Z" fill="#fff" stroke="#4a8a2c" stroke-width="2.3" stroke-linejoin="miter"/>
<path d="M924.4 92.6L928.3 85.4L920.5 85.4Z" fill="#fff" stroke="#4a8a2c" stroke-width="2.3" stroke-linejoin="miter"/>
<path d="M951.5 90.9L955.4 83.7L947.6 83.7Z" fill="#fff" stroke="#4a8a2c" stroke-width="2.3" stroke-linejoin="miter"/>
<path d="M978.5 90.8L982.4 83.6L974.6 83.6Z" fill="#fff" stroke="#4a8a2c" stroke-width="2.3" stroke-linejoin="miter"/>
<path d="M1005.6 90.6L1009.5 83.5L1001.7 83.5Z" fill="#fff" stroke="#4a8a2c" stroke-width="2.3" stroke-linejoin="miter"/>
<path d="M1032.7 90.5L1036.6 83.3L1028.8 83.3Z" fill="#fff" stroke="#4a8a2c" stroke-width="2.3" stroke-linejoin="miter"/>
<path d="M1059.7 90.4L1063.6 83.2L1055.8 83.2Z" fill="#fff" stroke="#4a8a2c" stroke-width="2.3" stroke-linejoin="miter"/>
<path d="M1086.8 89.9L1090.7 82.8L1082.9 82.8Z" fill="#fff" stroke="#4a8a2c" stroke-width="2.3" stroke-linejoin="miter"/>
<path d="M1113.8 89.5L1117.7 82.3L1109.9 82.3Z" fill="#fff" stroke="#4a8a2c" stroke-width="2.3" stroke-linejoin="miter"/>
<path d="M1140.9 89.0L1144.8 81.9L1137.0 81.9Z" fill="#fff" stroke="#4a8a2c" stroke-width="2.3" stroke-linejoin="miter"/>
<path d="M1168.0 88.6L1171.9 81.4L1164.1 81.4Z" fill="#fff" stroke="#4a8a2c" stroke-width="2.3" stroke-linejoin="miter"/>
<path d="M1195.0 87.9L1198.9 80.7L1191.1 80.7Z" fill="#fff" stroke="#4a8a2c" stroke-width="2.3" stroke-linejoin="miter"/>
<path d="M1222.1 87.3L1226.0 80.1L1218.2 80.1Z" fill="#fff" stroke="#4a8a2c" stroke-width="2.3" stroke-linejoin="miter"/>
<path d="M1249.1 86.6L1253.0 79.4L1245.2 79.4Z" fill="#fff" stroke="#4a8a2c" stroke-width="2.3" stroke-linejoin="miter"/>
<path d="M735.0 210.9 C744.0 220.9 752.4 233.1 762.1 241.0 C770.6 248.0 780.1 251.5 789.1 257.0 C798.2 262.5 806.8 270.0 816.2 274.0 C824.9 277.8 834.4 277.7 843.2 281.0 C852.4 284.4 861.1 291.1 870.3 294.5 C879.1 297.8 888.3 299.1 897.4 301.3 C906.4 303.5 915.4 305.5 924.4 307.5 C933.4 309.4 942.4 311.4 951.5 313.0 C960.5 314.6 969.5 315.8 978.5 317.0 C987.5 318.2 996.6 318.9 1005.6 320.0 C1014.6 321.1 1023.6 322.5 1032.7 323.5 C1041.7 324.5 1050.7 325.2 1059.7 326.0 C1068.7 326.8 1077.8 327.7 1086.8 328.5 C1095.8 329.3 1104.8 330.0 1113.8 330.8 C1122.9 331.6 1131.9 332.5 1140.9 333.3 C1149.9 334.1 1158.9 335.1 1168.0 335.8 C1177.0 336.5 1186.0 336.9 1195.0 337.5 C1204.0 338.1 1213.1 338.7 1222.1 339.3 C1231.1 339.8 1240.1 340.3 1249.1 340.8 C1258.2 341.3 1267.2 341.9 1276.2 342.5" stroke="#4a8a30" stroke-width="2.4"/>
<path d="M735.0 215.5L738.9 208.3L731.1 208.3Z" fill="#fff" stroke="#4a8a2c" stroke-width="2.3" stroke-linejoin="miter"/>
<path d="M762.1 245.6L766.0 238.4L758.2 238.4Z" fill="#fff" stroke="#4a8a2c" stroke-width="2.3" stroke-linejoin="miter"/>
<path d="M789.1 261.6L793.0 254.4L785.2 254.4Z" fill="#fff" stroke="#4a8a2c" stroke-width="2.3" stroke-linejoin="miter"/>
<path d="M816.2 278.6L820.1 271.4L812.3 271.4Z" fill="#fff" stroke="#4a8a2c" stroke-width="2.3" stroke-linejoin="miter"/>
<path d="M843.2 285.6L847.1 278.4L839.3 278.4Z" fill="#fff" stroke="#4a8a2c" stroke-width="2.3" stroke-linejoin="miter"/>
<path d="M870.3 299.1L874.2 291.9L866.4 291.9Z" fill="#fff" stroke="#4a8a2c" stroke-width="2.3" stroke-linejoin="miter"/>
<path d="M897.4 305.9L901.3 298.7L893.5 298.7Z" fill="#fff" stroke="#4a8a2c" stroke-width="2.3" stroke-linejoin="miter"/>
<path d="M924.4 312.1L928.3 304.9L920.5 304.9Z" fill="#fff" stroke="#4a8a2c" stroke-width="2.3" stroke-linejoin="miter"/>
<path d="M951.5 317.6L955.4 310.4L947.6 310.4Z" fill="#fff" stroke="#4a8a2c" stroke-width="2.3" stroke-linejoin="miter"/>
<path d="M978.5 321.6L982.4 314.4L974.6 314.4Z" fill="#fff" stroke="#4a8a2c" stroke-width="2.3" stroke-linejoin="miter"/>
<path d="M1005.6 324.6L1009.5 317.4L1001.7 317.4Z" fill="#fff" stroke="#4a8a2c" stroke-width="2.3" stroke-linejoin="miter"/>
<path d="M1032.7 328.1L1036.6 320.9L1028.8 320.9Z" fill="#fff" stroke="#4a8a2c" stroke-width="2.3" stroke-linejoin="miter"/>
<path d="M1059.7 330.6L1063.6 323.4L1055.8 323.4Z" fill="#fff" stroke="#4a8a2c" stroke-width="2.3" stroke-linejoin="miter"/>
<path d="M1086.8 333.1L1090.7 325.9L1082.9 325.9Z" fill="#fff" stroke="#4a8a2c" stroke-width="2.3" stroke-linejoin="miter"/>
<path d="M1113.8 335.4L1117.7 328.2L1109.9 328.2Z" fill="#fff" stroke="#4a8a2c" stroke-width="2.3" stroke-linejoin="miter"/>
<path d="M1140.9 337.9L1144.8 330.7L1137.0 330.7Z" fill="#fff" stroke="#4a8a2c" stroke-width="2.3" stroke-linejoin="miter"/>
<path d="M1168.0 340.4L1171.9 333.2L1164.1 333.2Z" fill="#fff" stroke="#4a8a2c" stroke-width="2.3" stroke-linejoin="miter"/>
<path d="M1195.0 342.1L1198.9 334.9L1191.1 334.9Z" fill="#fff" stroke="#4a8a2c" stroke-width="2.3" stroke-linejoin="miter"/>
<path d="M1222.1 343.9L1226.0 336.7L1218.2 336.7Z" fill="#fff" stroke="#4a8a2c" stroke-width="2.3" stroke-linejoin="miter"/>
<path d="M1249.1 345.4L1253.0 338.2L1245.2 338.2Z" fill="#fff" stroke="#4a8a2c" stroke-width="2.3" stroke-linejoin="miter"/>
<path d="M735.0 210.9 C744.0 196.6 752.1 179.6 762.1 168.1 C770.4 158.4 779.8 151.7 789.1 144.9 C797.9 138.5 806.8 132.1 816.2 128.4 C824.9 124.9 834.2 124.0 843.2 122.5 C852.2 121.0 861.3 120.0 870.3 119.4 C879.3 118.8 888.3 119.1 897.4 119.0 C906.4 118.8 915.4 118.9 924.4 118.5 C933.4 118.1 942.5 116.7 951.5 116.3 C960.5 115.9 969.5 116.1 978.5 116.0 C987.6 115.9 996.6 115.8 1005.6 115.7 C1014.6 115.6 1023.6 115.5 1032.7 115.4 C1041.7 115.3 1050.7 115.2 1059.7 115.0 C1068.7 114.9 1077.8 114.8 1086.8 114.7 C1095.8 114.6 1104.8 114.5 1113.8 114.4 C1122.9 114.3 1131.9 114.2 1140.9 114.1 C1149.9 114.0 1158.9 113.9 1168.0 113.8 C1177.0 113.7 1186.0 113.5 1195.0 113.4 C1204.0 113.3 1213.1 113.1 1222.1 113.0 C1231.1 112.9 1240.1 112.7 1249.1 112.6 C1258.2 112.5 1267.2 112.5 1276.2 112.5" stroke="#d030d0" stroke-width="2.4"/>
<rect x="731.0" y="206.9" width="8.0" height="8.0" fill="#dc20dc"/>
<rect x="758.1" y="164.1" width="8.0" height="8.0" fill="#dc20dc"/>
<rect x="785.1" y="140.9" width="8.0" height="8.0" fill="#dc20dc"/>
<rect x="812.2" y="124.4" width="8.0" height="8.0" fill="#dc20dc"/>
<rect x="839.2" y="118.5" width="8.0" height="8.0" fill="#dc20dc"/>
<rect x="866.3" y="115.4" width="8.0" height="8.0" fill="#dc20dc"/>
<rect x="893.4" y="115.0" width="8.0" height="8.0" fill="#dc20dc"/>
<rect x="920.4" y="114.5" width="8.0" height="8.0" fill="#dc20dc"/>
<rect x="947.5" y="112.3" width="8.0" height="8.0" fill="#dc20dc"/>
<rect x="974.5" y="112.0" width="8.0" height="8.0" fill="#dc20dc"/>
<rect x="1001.6" y="111.7" width="8.0" height="8.0" fill="#dc20dc"/>
<rect x="1028.7" y="111.4" width="8.0" height="8.0" fill="#dc20dc"/>
<rect x="1055.7" y="111.0" width="8.0" height="8.0" fill="#dc20dc"/>
<rect x="1082.8" y="110.7" width="8.0" height="8.0" fill="#dc20dc"/>
<rect x="1109.8" y="110.4" width="8.0" height="8.0" fill="#dc20dc"/>
<rect x="1136.9" y="110.1" width="8.0" height="8.0" fill="#dc20dc"/>
<rect x="1164.0" y="109.8" width="8.0" height="8.0" fill="#dc20dc"/>
<rect x="1191.0" y="109.4" width="8.0" height="8.0" fill="#dc20dc"/>
<rect x="1218.1" y="109.0" width="8.0" height="8.0" fill="#dc20dc"/>
<rect x="1245.1" y="108.6" width="8.0" height="8.0" fill="#dc20dc"/>
<path d="M735.0 210.9 C744.0 220.6 752.4 232.4 762.1 240.0 C770.6 246.7 780.0 250.7 789.1 255.0 C798.0 259.2 807.1 262.7 816.2 265.8 C825.1 268.8 834.2 271.0 843.2 273.3 C852.2 275.6 861.3 277.5 870.3 279.5 C879.3 281.5 888.3 284.0 897.4 285.5 C906.3 287.0 915.4 287.7 924.4 288.5 C933.4 289.3 942.5 289.9 951.5 290.5 C960.5 291.1 969.5 291.3 978.5 292.0 C987.6 292.8 996.6 294.2 1005.6 295.0 C1014.6 295.8 1023.6 296.3 1032.7 297.0 C1041.7 297.7 1050.7 298.3 1059.7 299.0 C1068.7 299.8 1077.8 300.8 1086.8 301.5 C1095.8 302.2 1104.8 302.5 1113.8 303.0 C1122.9 303.5 1131.9 304.0 1140.9 304.5 C1149.9 305.1 1158.9 305.8 1168.0 306.3 C1177.0 306.8 1186.0 307.1 1195.0 307.5 C1204.0 307.9 1213.1 308.4 1222.1 308.8 C1231.1 309.2 1240.1 309.5 1249.1 310.0 C1258.2 310.5 1267.2 311.3 1276.2 312.0" stroke="#d030d0" stroke-width="2.4"/>
<rect x="731.0" y="206.9" width="8.0" height="8.0" fill="#dc20dc"/>
<rect x="758.1" y="236.0" width="8.0" height="8.0" fill="#dc20dc"/>
<rect x="785.1" y="251.0" width="8.0" height="8.0" fill="#dc20dc"/>
<rect x="812.2" y="261.8" width="8.0" height="8.0" fill="#dc20dc"/>
<rect x="839.2" y="269.3" width="8.0" height="8.0" fill="#dc20dc"/>
<rect x="866.3" y="275.5" width="8.0" height="8.0" fill="#dc20dc"/>
<rect x="893.4" y="281.5" width="8.0" height="8.0" fill="#dc20dc"/>
<rect x="920.4" y="284.5" width="8.0" height="8.0" fill="#dc20dc"/>
<rect x="947.5" y="286.5" width="8.0" height="8.0" fill="#dc20dc"/>
<rect x="974.5" y="288.0" width="8.0" height="8.0" fill="#dc20dc"/>
<rect x="1001.6" y="291.0" width="8.0" height="8.0" fill="#dc20dc"/>
<rect x="1028.7" y="293.0" width="8.0" height="8.0" fill="#dc20dc"/>
<rect x="1055.7" y="295.0" width="8.0" height="8.0" fill="#dc20dc"/>
<rect x="1082.8" y="297.5" width="8.0" height="8.0" fill="#dc20dc"/>
<rect x="1109.8" y="299.0" width="8.0" height="8.0" fill="#dc20dc"/>
<rect x="1136.9" y="300.5" width="8.0" height="8.0" fill="#dc20dc"/>
<rect x="1164.0" y="302.3" width="8.0" height="8.0" fill="#dc20dc"/>
<rect x="1191.0" y="303.5" width="8.0" height="8.0" fill="#dc20dc"/>
<rect x="1218.1" y="304.8" width="8.0" height="8.0" fill="#dc20dc"/>
<rect x="1245.1" y="306.0" width="8.0" height="8.0" fill="#dc20dc"/>
<path d="M735.0 210.9 C744.0 199.1 752.5 185.9 762.1 175.6 C770.7 166.3 779.8 158.3 789.1 151.3 C797.9 144.8 806.9 138.9 816.2 134.6 C825.0 130.5 834.1 127.9 843.2 125.6 C852.2 123.3 861.3 122.2 870.3 120.6 C879.3 119.0 888.3 117.1 897.4 116.0 C906.4 114.9 915.4 114.4 924.4 113.8 C933.4 113.2 942.5 112.8 951.5 112.5 C960.5 112.2 969.5 112.0 978.5 111.7 C987.6 111.5 996.6 111.2 1005.6 111.0 C1014.6 110.7 1023.6 110.4 1032.7 110.2 C1041.7 109.9 1050.7 109.7 1059.7 109.4 C1068.7 109.1 1077.8 108.9 1086.8 108.6 C1095.8 108.4 1104.8 108.1 1113.8 107.8 C1122.9 107.6 1131.9 107.3 1140.9 107.1 C1149.9 106.8 1158.9 106.4 1168.0 106.3 C1177.0 106.2 1186.0 106.2 1195.0 106.2 C1204.0 106.2 1213.1 106.1 1222.1 106.1 C1231.1 106.1 1240.1 106.1 1249.1 106.0 C1258.2 105.9 1267.2 105.7 1276.2 105.5" stroke="#84862e" stroke-width="2.4"/>
<circle cx="735.0" cy="210.9" r="3.1" fill="#fff" stroke="#7e8030" stroke-width="2.3"/>
<circle cx="762.1" cy="175.6" r="3.1" fill="#fff" stroke="#7e8030" stroke-width="2.3"/>
<circle cx="789.1" cy="151.3" r="3.1" fill="#fff" stroke="#7e8030" stroke-width="2.3"/>
<circle cx="816.2" cy="134.6" r="3.1" fill="#fff" stroke="#7e8030" stroke-width="2.3"/>
<circle cx="843.2" cy="125.6" r="3.1" fill="#fff" stroke="#7e8030" stroke-width="2.3"/>
<circle cx="870.3" cy="120.6" r="3.1" fill="#fff" stroke="#7e8030" stroke-width="2.3"/>
<circle cx="897.4" cy="116.0" r="3.1" fill="#fff" stroke="#7e8030" stroke-width="2.3"/>
<circle cx="924.4" cy="113.8" r="3.1" fill="#fff" stroke="#7e8030" stroke-width="2.3"/>
<circle cx="951.5" cy="112.5" r="3.1" fill="#fff" stroke="#7e8030" stroke-width="2.3"/>
<circle cx="978.5" cy="111.7" r="3.1" fill="#fff" stroke="#7e8030" stroke-width="2.3"/>
<circle cx="1005.6" cy="111.0" r="3.1" fill="#fff" stroke="#7e8030" stroke-width="2.3"/>
<circle cx="1032.7" cy="110.2" r="3.1" fill="#fff" stroke="#7e8030" stroke-width="2.3"/>
<circle cx="1059.7" cy="109.4" r="3.1" fill="#fff" stroke="#7e8030" stroke-width="2.3"/>
<circle cx="1086.8" cy="108.6" r="3.1" fill="#fff" stroke="#7e8030" stroke-width="2.3"/>
<circle cx="1113.8" cy="107.8" r="3.1" fill="#fff" stroke="#7e8030" stroke-width="2.3"/>
<circle cx="1140.9" cy="107.1" r="3.1" fill="#fff" stroke="#7e8030" stroke-width="2.3"/>
<circle cx="1168.0" cy="106.3" r="3.1" fill="#fff" stroke="#7e8030" stroke-width="2.3"/>
<circle cx="1195.0" cy="106.2" r="3.1" fill="#fff" stroke="#7e8030" stroke-width="2.3"/>
<circle cx="1222.1" cy="106.1" r="3.1" fill="#fff" stroke="#7e8030" stroke-width="2.3"/>
<circle cx="1249.1" cy="106.0" r="3.1" fill="#fff" stroke="#7e8030" stroke-width="2.3"/>
<path d="M735.0 210.9 C744.0 218.5 752.6 227.7 762.1 233.8 C770.7 239.4 780.0 242.6 789.1 246.5 C798.1 250.4 807.1 253.9 816.2 257.2 C825.2 260.5 834.2 263.7 843.2 266.3 C852.2 268.8 861.3 270.4 870.3 272.5 C879.3 274.6 888.3 277.1 897.4 278.8 C906.3 280.5 915.4 281.3 924.4 282.8 C933.5 284.3 942.4 286.3 951.5 287.8 C960.5 289.3 969.5 290.5 978.5 291.8 C987.6 293.1 996.6 294.3 1005.6 295.5 C1014.6 296.7 1023.6 297.8 1032.7 298.8 C1041.7 299.8 1050.7 300.6 1059.7 301.5 C1068.7 302.4 1077.8 303.2 1086.8 304.0 C1095.8 304.8 1104.8 305.7 1113.8 306.5 C1122.9 307.3 1131.9 308.2 1140.9 309.0 C1149.9 309.8 1158.9 310.6 1168.0 311.3 C1177.0 312.0 1186.0 312.7 1195.0 313.3 C1204.0 313.9 1213.1 314.4 1222.1 315.0 C1231.1 315.6 1240.1 316.2 1249.1 316.8 C1258.2 317.4 1267.2 318.1 1276.2 318.8" stroke="#84862e" stroke-width="2.4"/>
<circle cx="735.0" cy="210.9" r="3.1" fill="#fff" stroke="#7e8030" stroke-width="2.3"/>
<circle cx="762.1" cy="233.8" r="3.1" fill="#fff" stroke="#7e8030" stroke-width="2.3"/>
<circle cx="789.1" cy="246.5" r="3.1" fill="#fff" stroke="#7e8030" stroke-width="2.3"/>
<circle cx="816.2" cy="257.2" r="3.1" fill="#fff" stroke="#7e8030" stroke-width="2.3"/>
<circle cx="843.2" cy="266.3" r="3.1" fill="#fff" stroke="#7e8030" stroke-width="2.3"/>
<circle cx="870.3" cy="272.5" r="3.1" fill="#fff" stroke="#7e8030" stroke-width="2.3"/>
<circle cx="897.4" cy="278.8" r="3.1" fill="#fff" stroke="#7e8030" stroke-width="2.3"/>
<circle cx="924.4" cy="282.8" r="3.1" fill="#fff" stroke="#7e8030" stroke-width="2.3"/>
<circle cx="951.5" cy="287.8" r="3.1" fill="#fff" stroke="#7e8030" stroke-width="2.3"/>
<circle cx="978.5" cy="291.8" r="3.1" fill="#fff" stroke="#7e8030" stroke-width="2.3"/>
<circle cx="1005.6" cy="295.5" r="3.1" fill="#fff" stroke="#7e8030" stroke-width="2.3"/>
<circle cx="1032.7" cy="298.8" r="3.1" fill="#fff" stroke="#7e8030" stroke-width="2.3"/>
<circle cx="1059.7" cy="301.5" r="3.1" fill="#fff" stroke="#7e8030" stroke-width="2.3"/>
<circle cx="1086.8" cy="304.0" r="3.1" fill="#fff" stroke="#7e8030" stroke-width="2.3"/>
<circle cx="1113.8" cy="306.5" r="3.1" fill="#fff" stroke="#7e8030" stroke-width="2.3"/>
<circle cx="1140.9" cy="309.0" r="3.1" fill="#fff" stroke="#7e8030" stroke-width="2.3"/>
<circle cx="1168.0" cy="311.3" r="3.1" fill="#fff" stroke="#7e8030" stroke-width="2.3"/>
<circle cx="1195.0" cy="313.3" r="3.1" fill="#fff" stroke="#7e8030" stroke-width="2.3"/>
<circle cx="1222.1" cy="315.0" r="3.1" fill="#fff" stroke="#7e8030" stroke-width="2.3"/>
<circle cx="1249.1" cy="316.8" r="3.1" fill="#fff" stroke="#7e8030" stroke-width="2.3"/>
</g>
<line x1="871.0" y1="117.6" x2="871.0" y2="396" stroke="#7c7c2c" stroke-width="2.5" stroke-dasharray="9 9"/>
<line x1="925.0" y1="81" x2="925.0" y2="394" stroke="#b03048" stroke-width="2.5" stroke-dasharray="9 8.9"/>
<g font-family="Liberation Sans, sans-serif" font-weight="bold" fill="#111">
<line x1="1101.3" y1="129.0" x2="1145.6" y2="129.0" stroke="#202020" stroke-width="2.6"/>
<rect x="1120.4" y="125.9" width="6.2" height="6.2" fill="#fff" stroke="#161616" stroke-width="2.6"/>
<text x="1151.0" y="134.4" font-size="18.3">V<tspan font-size="11.2" dx="-0.6" dy="7.2">2</tspan><tspan dx="-0.3" dy="-7.2">O</tspan><tspan font-size="11.2" dx="-0.3" dy="7.2">5</tspan></text>
<line x1="1101.3" y1="159.4" x2="1145.6" y2="159.4" stroke="#c8303a" stroke-width="2.6"/>
<circle cx="1123.5" cy="159.4" r="4.5" fill="#e81818"/>
<text x="1151.0" y="164.8" font-size="18.3">Mn(0.27)V<tspan font-size="11.2" dx="-0.6" dy="7.2">2</tspan><tspan dx="-0.3" dy="-7.2">O</tspan><tspan font-size="11.2" dx="-0.3" dy="7.2">5</tspan></text>
<line x1="1101.3" y1="189.8" x2="1145.6" y2="189.8" stroke="#2a2ab4" stroke-width="2.6"/>
<path d="M1123.5 185.2L1127.4 192.4L1119.6 192.4Z" fill="#fff" stroke="#2a2ab8" stroke-width="2.3" stroke-linejoin="miter"/>
<text x="1151.0" y="195.2" font-size="18.3">Mn(0.4)V<tspan font-size="11.2" dx="-0.6" dy="7.2">2</tspan><tspan dx="-0.3" dy="-7.2">O</tspan><tspan font-size="11.2" dx="-0.3" dy="7.2">5</tspan></text>
<line x1="1101.3" y1="220.2" x2="1145.6" y2="220.2" stroke="#4a8a30" stroke-width="2.6"/>
<path d="M1123.5 224.8L1127.4 217.6L1119.6 217.6Z" fill="#fff" stroke="#4a8a2c" stroke-width="2.3" stroke-linejoin="miter"/>
<text x="1151.0" y="225.6" font-size="18.3">Mn(0.54)V<tspan font-size="11.2" dx="-0.6" dy="7.2">2</tspan><tspan dx="-0.3" dy="-7.2">O</tspan><tspan font-size="11.2" dx="-0.3" dy="7.2">5</tspan></text>
<line x1="1101.3" y1="250.6" x2="1145.6" y2="250.6" stroke="#d030d0" stroke-width="2.6"/>
<rect x="1119.5" y="246.6" width="8.0" height="8.0" fill="#dc20dc"/>
<text x="1151.0" y="256.0" font-size="18.3">Mn(0.64)V<tspan font-size="11.2" dx="-0.6" dy="7.2">2</tspan><tspan dx="-0.3" dy="-7.2">O</tspan><tspan font-size="11.2" dx="-0.3" dy="7.2">5</tspan></text>
<line x1="1101.3" y1="281.0" x2="1145.6" y2="281.0" stroke="#84862e" stroke-width="2.6"/>
<circle cx="1123.5" cy="281.0" r="3.1" fill="#fff" stroke="#7e8030" stroke-width="2.3"/>
<text x="1151.0" y="286.4" font-size="18.3">Mn(0.94)V<tspan font-size="11.2" dx="-0.6" dy="7.2">2</tspan><tspan dx="-0.3" dy="-7.2">O</tspan><tspan font-size="11.2" dx="-0.3" dy="7.2">5</tspan></text>
</g>
<rect x="735.0" y="12.5" width="541.4" height="396.9" fill="none" stroke="#2e2e2e" stroke-width="3" rx="1.5"/>
<g font-family="Liberation Sans, sans-serif" font-weight="bold" fill="#111">
<text x="1250.1" y="37.6" font-size="30.5" text-anchor="middle" >(b)</text>
<text x="933.6" y="49.4" font-size="18.5" text-anchor="middle" >7.0s</text>
<text x="842.5" y="191.9" font-size="18.5" text-anchor="middle" >5.0s</text>
<text x="1017.0" y="462.8" font-size="21.9" text-anchor="middle" >Time (sec)</text>
<text transform="translate(684.2,213.6) rotate(-90)" x="0" y="0" font-size="23.3" text-anchor="middle">Charge density (mC/cm<tspan font-size="13.5" dy="-12.5">2</tspan><tspan dy="12.5">)</tspan></text>
</g>
</svg></body></html>
